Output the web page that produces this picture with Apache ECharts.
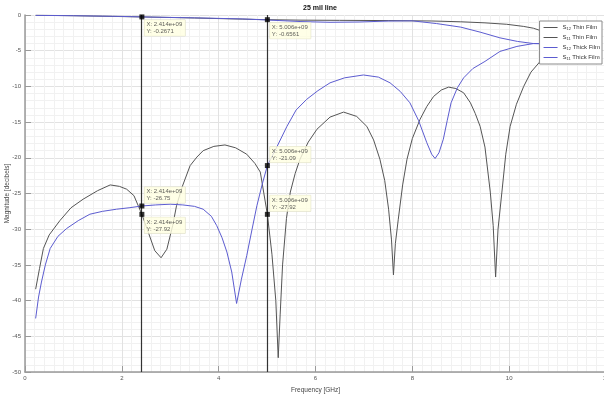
<!DOCTYPE html>
<html><head><meta charset="utf-8">
<script src="https://cdn.jsdelivr.net/npm/echarts@6/dist/echarts.min.js"></script>
<style>html,body{margin:0;padding:0;background:#fff}#c{width:604px;height:396px}</style>
</head><body><div id="c"></div>
<script>
const title = '25 mil line';
const xName = 'Frequency [GHz]';
const yName = 'Magnitude [decibels]';
const xTicks = [0, 2, 4, 6, 8, 10, 12];
const yTicks = [-50, -45, -40, -35, -30, -25, -20, -15, -10, -5, 0];

const s12ThinF = [0.22,1,2,2.414,3.5,4.5,5.006,5.7,6.5,7.5,8.4,9.0,9.5,9.95,10.3,10.5,10.81,11.1,11.4];
const s12ThinY = [-0.03,-0.1,-0.22,-0.2671,-0.42,-0.58,-0.6561,-0.72,-0.75,-0.78,-0.84,-0.95,-1.1,-1.3,-1.6,-1.85,-2.55,-3.0,-3.3];

const s11ThinF = [0.22,0.3,0.38,0.5,0.72,0.95,1.2,1.5,1.76,1.95,2.1,2.25,2.414,2.55,2.68,2.81,2.93,3.05,3.13,3.25,3.41,3.55,3.68,3.9,4.13,4.35,4.58,4.75,4.86,5.006,5.1,5.18,5.23,5.27,5.32,5.4,5.48,5.58,5.68,5.85,6.03,6.3,6.58,6.85,7.06,7.2,7.33,7.43,7.51,7.57,7.61,7.65,7.71,7.8,7.89,8.0,8.16,8.3,8.44,8.6,8.75,8.9,9.06,9.2,9.3,9.4,9.5,9.61,9.67,9.72,9.77,9.85,9.93,10.02,10.15,10.3,10.45,10.64,10.81,11.0,11.2,11.4];
const s11ThinY = [-38.4,-35.5,-32.7,-30.8,-28.8,-27.0,-25.8,-24.6,-23.8,-24.0,-24.4,-25.3,-27.92,-30.5,-33.0,-34.0,-32.8,-29.5,-26.7,-24.0,-21.1,-19.9,-19.0,-18.4,-18.2,-18.6,-19.5,-20.8,-22.0,-27.92,-33.5,-40.0,-48.0,-42.0,-35.0,-28.5,-24.8,-22.2,-20.2,-17.8,-16.0,-14.3,-13.6,-14.2,-15.6,-17.5,-20.2,-23.2,-27.2,-31.5,-36.4,-32.0,-28.6,-23.8,-20.2,-17.3,-14.6,-12.8,-11.4,-10.5,-10.1,-10.3,-10.9,-12.3,-13.8,-15.6,-18.5,-24.8,-29.5,-36.7,-30.0,-24.8,-19.5,-15.6,-12.5,-10.0,-8.0,-6.5,-5.8,-5.0,-4.6,-4.3];

const s12ThickF = [0.22,1,2,2.414,3.5,4.5,5.0,5.7,6.3,6.9,7.5,8.0,8.5,9.0,9.4,9.81,10.17,10.5,10.8,11.1,11.4];
const s12ThickY = [-0.05,-0.1,-0.2,-0.27,-0.4,-0.55,-0.7,-0.92,-1.02,-0.98,-0.85,-0.82,-1.2,-1.7,-2.4,-3.2,-3.7,-4.0,-4.05,-4.1,-4.1];

const s11ThickF = [0.22,0.28,0.34,0.42,0.52,0.68,0.86,1.1,1.34,1.6,1.89,2.15,2.414,2.7,3.0,3.26,3.5,3.68,3.85,3.96,4.07,4.17,4.27,4.37,4.47,4.58,4.69,4.79,4.9,5.006,5.2,5.41,5.6,5.82,6.05,6.3,6.6,6.99,7.3,7.54,7.75,7.95,8.13,8.3,8.4,8.47,8.55,8.64,8.72,8.8,8.93,9.06,9.25,9.5,9.81,10.16,10.5,10.8,11.1,11.4];
const s11ThickY = [-42.5,-39.5,-37.4,-35.0,-32.7,-31.0,-29.9,-28.8,-27.9,-27.5,-27.2,-27.0,-26.75,-26.6,-26.5,-26.6,-26.8,-27.2,-28.2,-29.5,-31.2,-33.2,-36.0,-40.4,-37.0,-33.7,-30.0,-26.7,-23.7,-21.09,-18.5,-15.6,-13.3,-11.8,-10.6,-9.5,-8.8,-8.4,-8.7,-9.5,-10.7,-12.3,-14.8,-17.9,-19.5,-20.1,-19.3,-17.4,-14.8,-12.3,-10.2,-8.8,-7.5,-6.5,-5.1,-4.4,-4.0,-4.0,-4.05,-4.1];

const tipX = [2.414, 5.006, 2.414, 2.414, 5.006, 5.006];
const tipY = [-0.2671, -0.6561, -26.75, -27.92, -21.09, -27.92];
const tipSide = ['below', 'below', 'above', 'below', 'above', 'above'];

const seriesNames = ['S12 Thin Film', 'S11 Thin Film', 'S12 Thick Film', 'S11 Thick Film'];
const seriesSub = ['12', '11', '12', '11'];
const seriesKind = ['Thin Film', 'Thin Film', 'Thick Film', 'Thick Film'];

const zip = (a, b) => a.map((v, i) => [v, b[i]]);
const FONT = 'Liberation Sans';
const thinColor = '#555555';
const thickColor = '#5c5cd0';

const chart = echarts.init(document.getElementById('c'), null, {renderer: 'canvas'});

function lineSeries(name, data, color) {
  return {name, type: 'line', data, symbol: 'none', showSymbol: false, smooth: false,
    lineStyle: {color, width: 1}, itemStyle: {color}, z: 3, silent: true};
}

const tipData = tipX.map((x, i) => ({
  value: [x, tipY[i]],
  label: {offset: [0, tipSide[i] === 'below' ? 11 : -11]}
}));

const option = {
  animation: false,
  backgroundColor: '#ffffff',
  title: {text: title, left: 315, top: 0, textAlign: 'center',
    textStyle: {fontFamily: FONT, fontSize: 7, fontWeight: 'bold', color: '#111'}},
  grid: {left: 25, right: -2, top: 15, bottom: 24, containLabel: false, outerBoundsMode: 'none'},
  legend: {
    orient: 'vertical', right: 2, top: 21,
    data: seriesNames,
    icon: 'rect',
    itemWidth: 14, itemHeight: 1, itemGap: 3,
    backgroundColor: '#ffffff', borderColor: '#8a8a8a', borderWidth: 1,
    padding: [3, 2, 3, 4],
    formatter: name => {
      const i = seriesNames.indexOf(name);
      return '{s|S}{sub|' + seriesSub[i] + '} {t|' + seriesKind[i] + '}';
    },
    textStyle: {fontFamily: FONT, fontSize: 6, color: '#333', lineHeight: 7,
      rich: {s: {fontSize: 6, fontFamily: FONT, color: '#333'},
             sub: {fontSize: 4, fontFamily: FONT, color: '#333', verticalAlign: 'bottom', padding: [3, 0, 0, 0]},
             t: {fontSize: 6, fontFamily: FONT, color: '#333'}}}
  },
  xAxis: {
    type: 'value', min: xTicks[0], max: xTicks[xTicks.length - 1], interval: 2,
    name: xName, nameLocation: 'middle', nameGap: 15, nameMoveOverlap: false,
    nameTextStyle: {fontFamily: FONT, fontSize: 6.5, color: '#444'},
    axisLine: {show: true, onZero: false, lineStyle: {color: '#9a9a9a', width: 1.5}},
    axisTick: {show: true, inside: true, length: 6, lineStyle: {color: '#9a9a9a'}},
    axisLabel: {fontFamily: FONT, fontSize: 6, color: '#555', margin: 3},
    splitLine: {show: true, lineStyle: {color: '#e2e2e2', width: 1}},
    minorTick: {show: true, splitNumber: 10, length: 0},
    minorSplitLine: {show: true, lineStyle: {color: '#f1f1f1', width: 1}}
  },
  yAxis: {
    type: 'value', min: yTicks[0], max: yTicks[yTicks.length - 1], interval: 5,
    name: yName, nameLocation: 'middle', nameGap: 14, nameMoveOverlap: false, nameRotate: 90,
    nameTextStyle: {fontFamily: FONT, fontSize: 6.5, color: '#444'},
    axisLine: {show: true, onZero: false, lineStyle: {color: '#9a9a9a', width: 1.5}},
    axisTick: {show: true, inside: true, length: 6, lineStyle: {color: '#9a9a9a'}},
    axisLabel: {fontFamily: FONT, fontSize: 6, color: '#555', margin: 4},
    splitLine: {show: true, lineStyle: {color: '#e2e2e2', width: 1}},
    minorTick: {show: true, splitNumber: 5, length: 0},
    minorSplitLine: {show: true, lineStyle: {color: '#f1f1f1', width: 1}}
  },
  series: [
    lineSeries(seriesNames[0], zip(s12ThinF, s12ThinY), thinColor),
    lineSeries(seriesNames[1], zip(s11ThinF, s11ThinY), thinColor),
    lineSeries(seriesNames[2], zip(s12ThickF, s12ThickY), thickColor),
    lineSeries(seriesNames[3], zip(s11ThickF, s11ThickY), thickColor),
    {
      name: 'tips', type: 'scatter', data: tipData, symbol: 'rect', symbolSize: 5,
      itemStyle: {color: '#000'}, z: 10, silent: true,
      label: {
        show: true, position: 'right', distance: 0,
        formatter: p => 'X: ' + p.value[0].toFixed(3) + 'e+09\nY: ' + p.value[1].toPrecision(4),
        fontFamily: FONT, fontSize: 6, lineHeight: 7, color: '#333',
        backgroundColor: '#ffffe1', borderColor: '#d8d8c0', borderWidth: 0.5,
        padding: [1, 3, 1, 2], align: 'left'
      },
      markLine: {
        silent: true, symbol: ['none', 'none'], label: {show: false},
        lineStyle: {color: '#333', width: 1.2, type: 'solid'},
        data: [...new Set(tipX)].map(x => ({xAxis: x}))
      }
    }
  ]
};
chart.setOption(option);
</script></body></html>
